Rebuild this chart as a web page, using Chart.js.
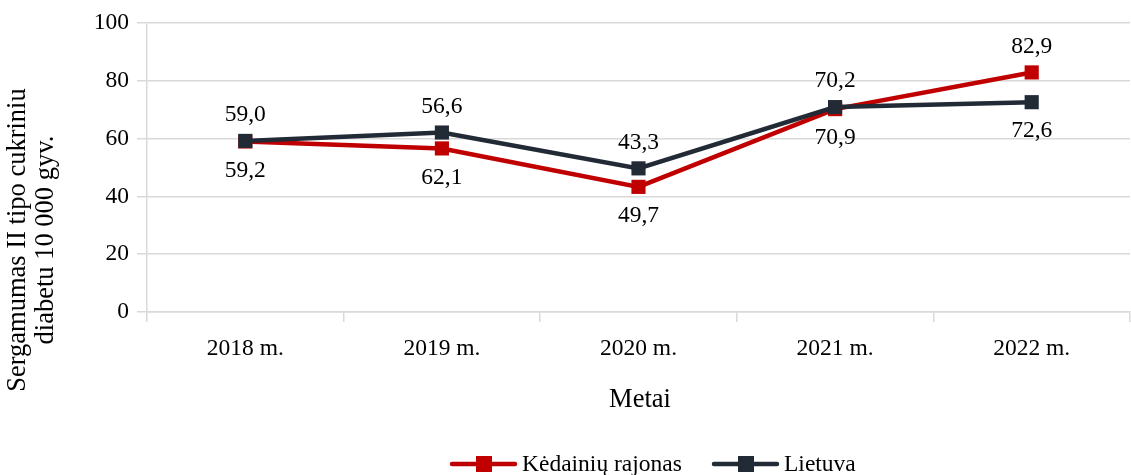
<!DOCTYPE html>
<html>
<head>
<meta charset="utf-8">
<script src="https://cdn.jsdelivr.net/npm/chart.js@4/dist/chart.umd.min.js"></script>
<style>
  html, body { margin: 0; padding: 0; background: #fff; overflow: hidden; }
  #wrap { width: 1140px; height: 475px; }
</style>
</head>
<body>
<div id="wrap"><canvas id="diabetChart" width="1140" height="475"></canvas></div>
<script>
// --- duomenys ---
const metai = ['2018 m.', '2019 m.', '2020 m.', '2021 m.', '2022 m.'];
const kedainiai = [59.0, 56.6, 43.3, 70.2, 82.9];
const lietuva = [59.2, 62.1, 49.7, 70.9, 72.6];
const yTicks = [0, 20, 40, 60, 80, 100];

const RED = '#C00000';
const DARK = '#222A35';
const GRID = '#D9D9D9';
const FONT = '"Liberation Serif", "Times New Roman", serif';

const fmt = v => v.toFixed(1).replace('.', ',');

// reiksmiu etiketes: virsutine virs auksciausio tasko, apatine po zemiausio
const labelsPlugin = {
    id: 'labelsPlugin',
    afterDatasetsDraw(chart) {
        const ctx = chart.ctx;
        const x = chart.scales.x, y = chart.scales.y;
        ctx.save();
        ctx.font = '23.5px ' + FONT;
        ctx.fillStyle = '#000';
        ctx.textAlign = 'center';
        ctx.textBaseline = 'middle';
        metai.forEach((m, i) => {
            const px = x.getPixelForValue(i);
            const y1 = y.getPixelForValue(kedainiai[i]);
            const y2 = y.getPixelForValue(lietuva[i]);
            ctx.fillText(fmt(kedainiai[i]), px, Math.min(y1, y2) - 26);
            ctx.fillText(fmt(lietuva[i]), px, Math.max(y1, y2) + 29);
        });
        ctx.restore();
    }
};

// asiu pavadinimai ir legenda
const titlesPlugin = {
    id: 'titlesPlugin',
    afterDraw(chart) {
        const ctx = chart.ctx;
        ctx.save();
        ctx.fillStyle = '#000';
        ctx.font = '26.5px ' + FONT;
        ctx.textAlign = 'center';
        ctx.textBaseline = 'middle';
        ctx.fillText('Metai', 640, 400);

        ctx.save();
        ctx.translate(18, 240);
        ctx.rotate(-Math.PI / 2);
        ctx.fillText('Sergamumas II tipo cukriniu', 0, 0);
        ctx.fillText('diabetu 10 000 gyv.', 0, 28);
        ctx.restore();

        // legenda
        const items = [
            { text: 'Kėdainių rajonas', color: RED, x0: 452 },
            { text: 'Lietuva', color: DARK, x0: 714 }
        ];
        const ly = 464;
        ctx.font = '23.5px ' + FONT;
        ctx.textAlign = 'left';
        items.forEach(it => {
            ctx.strokeStyle = it.color;
            ctx.lineWidth = 4.5;
            ctx.lineCap = 'round';
            ctx.beginPath();
            ctx.moveTo(it.x0, ly);
            ctx.lineTo(it.x0 + 63, ly);
            ctx.stroke();
            ctx.fillStyle = it.color;
            ctx.fillRect(it.x0 + 24, ly - 8, 16, 16);
            ctx.fillStyle = '#000';
            ctx.fillText(it.text, it.x0 + 70, ly + 1);
        });
        ctx.restore();
    }
};

new Chart(document.getElementById('diabetChart'), {
    type: 'line',
    data: {
        labels: metai,
        datasets: [
            {
                label: 'Kėdainių rajonas',
                data: kedainiai,
                borderColor: RED,
                backgroundColor: RED,
                borderWidth: 4.5,
                pointStyle: 'rect',
                pointRadius: 10,
                pointBorderWidth: 0,
                tension: 0,
                order: 1
            },
            {
                label: 'Lietuva',
                data: lietuva,
                borderColor: DARK,
                backgroundColor: DARK,
                borderWidth: 4.5,
                pointStyle: 'rect',
                pointRadius: 10,
                pointBorderWidth: 0,
                tension: 0,
                order: 0
            }
        ]
    },
    options: {
        responsive: false,
        animation: false,
        layout: { padding: { top: 23, right: 0, bottom: 0, left: 0 } },
        plugins: {
            legend: { display: false },
            tooltip: { enabled: false }
        },
        scales: {
            x: {
                offset: true,
                afterFit: s => { s.height = 163; },
                grid: {
                    offset: true,
                    drawOnChartArea: false,
                    color: GRID,
                    lineWidth: 1.5,
                    tickLength: 10
                },
                border: { color: GRID, width: 1.5 },
                ticks: {
                    color: '#000',
                    font: { family: FONT, size: 23.5 },
                    padding: 13,
                    maxRotation: 0
                }
            },
            y: {
                min: 0,
                max: 100,
                afterFit: s => { s.width = 147; },
                afterBuildTicks: s => { s.ticks = yTicks.map(v => ({ value: v })); },
                grid: {
                    color: GRID,
                    lineWidth: 1.5,
                    tickLength: 10
                },
                border: { color: GRID, width: 1.5 },
                ticks: {
                    color: '#000',
                    font: { family: FONT, size: 23.5 },
                    padding: 8
                }
            }
        }
    },
    plugins: [labelsPlugin, titlesPlugin]
});
</script>
</body>
</html>
